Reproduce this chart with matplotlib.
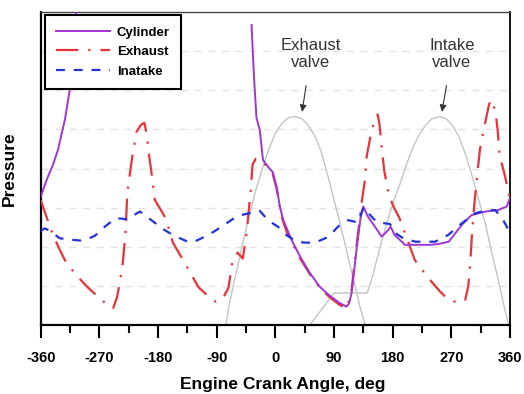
import numpy as np
import matplotlib
matplotlib.use('Agg')
import matplotlib.pyplot as plt

plt.rcParams['font.family'] = ['Liberation Sans', 'DejaVu Sans']
plt.rcParams['axes.unicode_minus'] = False

# crank angle (deg) / pressure (arbitrary units, 0..8)
cyl_deg = [-360, -355, -349, -341, -333.5, -323, -318, -315, -310, -304,
           np.nan,
           -36.5, -33, -29, -24, -19, -11, -4, 2, 7, 12, 25, 38, 53, 68, 84,
           99, 109, 113, 117, 125, 131, 135, 142, 153, 163, 171, 177, 183,
           194, 199, 237, 250, 266, 286, 301, 322, 342, 355, 360]
cyl_p = [3.27, 3.52, 3.79, 4.1, 4.48, 5.24, 5.75, 6.06, 7.0, 8.4,
         np.nan,
         7.67, 6.4, 5.3, 4.99, 4.22, 4.04, 3.91, 3.53, 3.02, 2.69, 2.17, 1.75,
         1.33, 0.98, 0.74, 0.56, 0.47, 0.55, 0.82, 2.0, 2.77, 3.03, 2.77, 2.51,
         2.26, 2.39, 2.51, 2.3, 2.13, 2.05, 2.05, 2.07, 2.13, 2.56, 2.81, 2.9,
         2.94, 3.03, 3.25]

exh_deg = [-360, -355, -344, -333, -323, -307, -287, -272, -260, -249, -243,
           -238, -234, -230, -227, -220, -213, -206, -201, -197, -195, -190,
           -185, -176, -168, -157, -138, -118, -104, -91, -80, -72, -66, -58,
           -50, -44, -41, -37.5, -35, -30, -24, -18, -11, -4, 2, 7, 12, 17,
           25, 38, 53, 68, 84, 99, 110, 117, 125, 133, 137, 140, 147, 152,
           157, 160, 163, 167, 174, 182, 190, 200, 214, 228, 240, 253, 266,
           280, 291, 296, 299, 302, 306, 310, 314, 321, 328, 333, 338, 341,
           344, 353, 360]
exh_p = [3.2, 2.95, 2.43, 2.0, 1.66, 1.3, 0.95, 0.72, 0.55, 0.43, 0.7,
         1.15, 1.6, 2.35, 3.4, 4.25, 4.94, 5.12, 5.17, 4.85, 4.48, 3.89,
         3.2, 2.95, 2.72, 2.1, 1.56, 0.97, 0.75, 0.59, 0.7, 0.95, 1.6, 1.85,
         1.7, 2.35, 2.9, 3.5, 4.1, 4.25, 4.22, 4.15, 4.0, 3.86, 3.48, 2.98,
         2.64, 2.4, 2.13, 1.7, 1.3, 0.95, 0.7, 0.51, 0.43, 0.9, 2.1, 3.2,
         3.66, 4.3, 4.92, 5.2, 5.38, 5.1, 4.55, 3.95, 3.32, 3.0, 2.75, 2.3,
         1.66, 1.35, 1.1, 0.85, 0.64, 0.58, 0.62, 1.0, 1.6, 2.4, 3.22, 3.9,
         4.5, 5.1, 5.65, 5.75, 5.4, 4.99, 4.35, 3.76, 3.2]

int_deg = [-360, -354, -347, -340, -331, -320, -299, -288, -277, -262, -245,
           -236, -227, -218, -208, -200, -191, -172, -155, -133, -122, -113,
           -94, -75, -58, -39, -24, -15, -6, 5, 17, 28, 42, 60, 81, 97, 112,
           127, 135, 145, 155, 168, 176, 184, 196, 215, 245, 265, 286, 307,
           322, 337, 348, 358, 360]
int_p = [2.4, 2.47, 2.42, 2.33, 2.22, 2.19, 2.16, 2.2, 2.28, 2.51, 2.73,
         2.72, 2.7, 2.8, 2.9, 2.82, 2.69, 2.45, 2.28, 2.12, 2.15, 2.22, 2.39,
         2.6, 2.79, 2.86, 2.92, 2.75, 2.62, 2.5, 2.3, 2.18, 2.11, 2.1, 2.25,
         2.53, 2.68, 2.62, 3.0, 2.82, 2.64, 2.6, 2.58, 2.35, 2.22, 2.13, 2.13,
         2.3, 2.6, 2.86, 2.92, 2.94, 2.73, 2.42, 2.4]

# valve lift traces (same vertical scale)
exv_deg = [-76, -70, -60, -50, -40, -30, -20, -10, 0, 10, 20, 30, 40, 50,
           60, 70, 80, 90, 100, 110, 120, 130, 138]
exv_lift = [0.0, 0.6, 1.35, 2.1, 2.8, 3.45, 4.0, 4.5, 4.9, 5.15, 5.3, 5.33,
            5.28, 5.12, 4.85, 4.45, 3.85, 3.2, 2.55, 1.85, 1.15, 0.45, 0.0]
inv_deg = [53, 90, 141, 150, 160, 170, 180, 190, 200, 210, 220, 230, 240,
           252, 262, 272, 282, 292, 302, 312, 322, 332, 342, 352, 358]
inv_lift = [0.0, 0.82, 0.82, 1.3, 1.95, 2.55, 3.1, 3.55, 4.05, 4.5, 4.85,
            5.1, 5.27, 5.33, 5.27, 5.1, 4.8, 4.35, 3.8, 3.2, 2.6, 1.85, 1.15,
            0.4, 0.0]

xticks = [-360, -270, -180, -90, 0, 90, 180, 270, 360]
xtick_labels = ['-360', '-270', '-180', '-90', '0', '90', '180', '270', '360']

fig = plt.figure(figsize=(5.24, 3.94), dpi=100)
ax = fig.add_axes([0.0777, 0.175, 0.8956, 0.7945])

ax.plot(exv_deg, exv_lift, color='#c4c4c4', lw=1.0, zorder=2)
ax.plot(inv_deg, inv_lift, color='#c4c4c4', lw=1.0, zorder=2)

l_exh, = ax.plot(exh_deg, exh_p, color='#e8333a', lw=1.6,
                 ls=(0, (10, 4.5, 1, 4.5)), zorder=3, label='Exhaust')
l_cyl, = ax.plot(cyl_deg, cyl_p, color='#a035d8', lw=1.4, zorder=4,
                 label='Cylinder')
l_int, = ax.plot(int_deg, int_p, color='#2233dd', lw=1.6,
                 ls=(0, (4, 4)), zorder=5, label='Inatake')

ax.set_xlim(-360, 360)
ax.set_ylim(0, 8)

ax.set_xticks(xticks)
ax.set_xticklabels(xtick_labels, fontsize=10.5, fontweight='bold')
ax.set_xticks(np.arange(-315, 360, 90), minor=True)
ax.tick_params(axis='x', which='major', direction='out', length=9.5,
               width=1.5, pad=9)
ax.tick_params(axis='x', which='minor', direction='out', length=6, width=1.5)

ax.set_yticks(range(1, 8))
ax.tick_params(axis='y', length=0, labelleft=False)
ax.grid(axis='y', color='#e2e2e2', lw=1.0, ls=(0, (5, 5)), zorder=0)

for side in ['left', 'bottom']:
    ax.spines[side].set_linewidth(1.6)
ax.spines['right'].set_linewidth(1.3)
ax.spines['top'].set_linewidth(1.0)
ax.spines['top'].set_color('#444444')

ax.set_xlabel('Engine Crank Angle, deg', fontsize=12.5, fontweight='bold')
ax.xaxis.set_label_coords(0.515, -0.165)
ax.set_ylabel('Pressure', fontsize=12.5, fontweight='bold')
ax.yaxis.set_label_coords(-0.05, 0.5)

ax.annotate('Exhaust\nvalve', xy=(41, 5.45), xytext=(54.5, 6.92),
            ha='center', va='center', fontsize=12, color='#333333',
            linespacing=1.2,
            arrowprops=dict(arrowstyle='-|>', color='#333333', lw=0.8,
                            mutation_scale=10, shrinkA=9, shrinkB=0))
ax.annotate('Intake\nvalve', xy=(255.5, 5.45), xytext=(271, 6.92),
            ha='center', va='center', fontsize=12, color='#333333',
            linespacing=1.2,
            arrowprops=dict(arrowstyle='-|>', color='#333333', lw=0.8,
                            mutation_scale=10, shrinkA=9, shrinkB=0))

leg = ax.legend(handles=[l_cyl, l_exh, l_int], loc='upper left',
                bbox_to_anchor=(0.009, 0.99), borderaxespad=0,
                fancybox=False, framealpha=1, edgecolor='black',
                handlelength=4.1, handletextpad=0.5, borderpad=0.85,
                labelspacing=0.55, prop={'weight': 'bold', 'size': 9.5})
leg.get_frame().set_linewidth(1.5)

fig.savefig('out.png', dpi=100)
